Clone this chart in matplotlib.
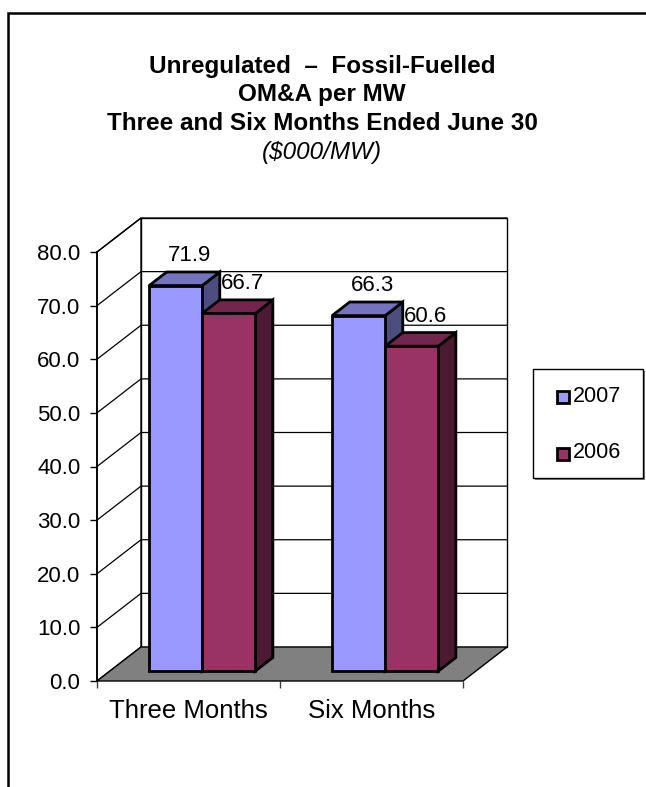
import matplotlib
matplotlib.use("Agg")
import matplotlib.pyplot as plt
from matplotlib.patches import Polygon, Rectangle
import numpy as np

plt.rcParams['font.family'] = ['Liberation Sans', 'DejaVu Sans']

categories = ["Three Months", "Six Months"]
series_names = ["2007", "2006"]
values_2007 = [71.9, 66.3]
values_2006 = [66.7, 60.6]
yticks = [0, 10, 20, 30, 40, 50, 60, 70, 80]
title_lines = ["Unregulated  \u2013  Fossil-Fuelled", "OM&A per MW",
               "Three and Six Months Ended June 30"]
subtitle = "($000/MW)"

front_colors = ["#9999FF", "#993366"]
top_colors = ["#7373C0", "#73264D"]
side_colors = ["#4D4D80", "#4D1A33"]

W, H = 646, 787
fig = plt.figure(figsize=(W / 100, H / 100), dpi=100)
fig.patch.set_facecolor("white")

# outer frame (open at right and bottom, cut by the image edge)
fig.add_artist(Rectangle((8 / W, -0.1), 1.2, 1 - 13 / H + 0.1, transform=fig.transFigure,
                         fill=False, edgecolor="black", linewidth=1.8))

# front plane axes
x_left, x_right, y_bot, y_top = 97, 463, 681, 252
ax = fig.add_axes([x_left / W, (H - y_bot) / H, (x_right - x_left) / W, (y_bot - y_top) / H])
ncat = len(categories)
ymax = 80
ax.set_xlim(0, ncat)
ax.set_ylim(0, ymax)

px_x = (x_right - x_left) / ncat
px_y = (y_bot - y_top) / ymax
DX = 44 / px_x
DY = 34 / px_y

def P(x, y, d):
    return (x + d * DX, y + d * DY)

def poly(pts, fc, ec="black", lw=1.0, z=1):
    ax.add_patch(Polygon(pts, closed=True, facecolor=fc, edgecolor=ec, linewidth=lw,
                         clip_on=False, zorder=z, joinstyle="miter"))

# walls and floor
poly([P(0, 0, 1), P(ncat, 0, 1), P(ncat, ymax, 1), P(0, ymax, 1)], "white", lw=1.0, z=1)
poly([P(0, 0, 0), P(0, ymax, 0), P(0, ymax, 1), P(0, 0, 1)], "white", lw=1.0, z=1)
poly([P(0, 0, 0), P(ncat, 0, 0), P(ncat, 0, 1), P(0, 0, 1)], "#808080", lw=1.0, z=2)

for v in yticks[1:]:
    xs, ys = zip(P(0, v, 0), P(0, v, 1), P(ncat, v, 1))
    ax.plot(xs, ys, color="black", lw=0.9, clip_on=False, zorder=1.5)

# bars
bar_w = 0.29
d_f, d_b = 0.29, 0.69
series = [values_2007, values_2006]
for i in range(ncat):
    start = i + 0.5 - bar_w * len(series) / 2 + 0.005
    for j, vals in enumerate(series):
        v = vals[i]
        x0 = start + j * bar_w
        x1 = x0 + bar_w
        z = 5 + j
        # side face
        poly([P(x1, 0, d_f), P(x1, 0, d_b), P(x1, v, d_b), P(x1, v, d_f)], side_colors[j], lw=2, z=z)
        # top face
        poly([P(x0, v, d_f), P(x1, v, d_f), P(x1, v, d_b), P(x0, v, d_b)], top_colors[j], lw=2, z=z)
        # front face
        poly([P(x0, 0, d_f), P(x1, 0, d_f), P(x1, v, d_f), P(x0, v, d_f)], front_colors[j], lw=2, z=z + 0.1)
        # data label
        ax.text(x0 + bar_w / 2 + 27 / px_x, v + 40 / px_y, f"{v:.1f}", ha="center", va="center",
                fontsize=16, zorder=10, clip_on=False)

# axes styling
for s in ["top", "right", "bottom"]:
    ax.spines[s].set_visible(False)
ax.spines["left"].set_linewidth(1.2)
ax.spines["left"].set_zorder(3)
ax.set_facecolor("none")
ax.set_yticks(yticks)
ax.set_yticklabels([f"{t:.1f}" for t in yticks], fontsize=16)
ax.tick_params(axis="y", length=5, width=1, pad=7, direction="out")
ax.set_xticks(np.arange(ncat + 1))
ax.set_xticklabels([""] * (ncat + 1))
ax.tick_params(axis="x", which="major", length=5, width=1, direction="out", color="#404040")
ax.set_xticks(np.arange(ncat) + 0.5, minor=True)
ax.set_xticklabels(categories, minor=True, fontsize=18.5)
ax.tick_params(axis="x", which="minor", length=0, pad=13)

# title
title_y = [67, 95, 123]
for line, yy in zip(title_lines, title_y):
    fig.text(322 / W, 1 - yy / H, line, ha="center", va="center", fontsize=17.5, fontweight="bold")
fig.text(322 / W, 1 - 152 / H, subtitle, ha="center", va="center", fontsize=17.5, style="italic")

# legend
lx0, ly0, lx1, ly1 = 533, 369, 643, 478
fig.add_artist(Rectangle((lx0 / W + 1.5 / W, 1 - (ly1 + 1.5) / H), (lx1 - lx0) / W, (ly1 - ly0) / H,
                         transform=fig.transFigure, facecolor="#808080", edgecolor="none", zorder=1))
fig.add_artist(Rectangle((lx0 / W, 1 - ly1 / H), (lx1 - lx0) / W, (ly1 - ly0) / H,
                         transform=fig.transFigure, facecolor="white", edgecolor="black", linewidth=1, zorder=2))
for j, (name, yy) in enumerate(zip(series_names, [396, 453])):
    fig.add_artist(Rectangle((557 / W, 1 - (yy + 6.5) / H), 12 / W, 12 / H, transform=fig.transFigure,
                             facecolor=front_colors[j], edgecolor="black", linewidth=2, zorder=3))
    fig.text(573 / W, 1 - yy / H, name, ha="left", va="center", fontsize=15.5, zorder=4)

fig.savefig("out.png", dpi=100, facecolor="white")
